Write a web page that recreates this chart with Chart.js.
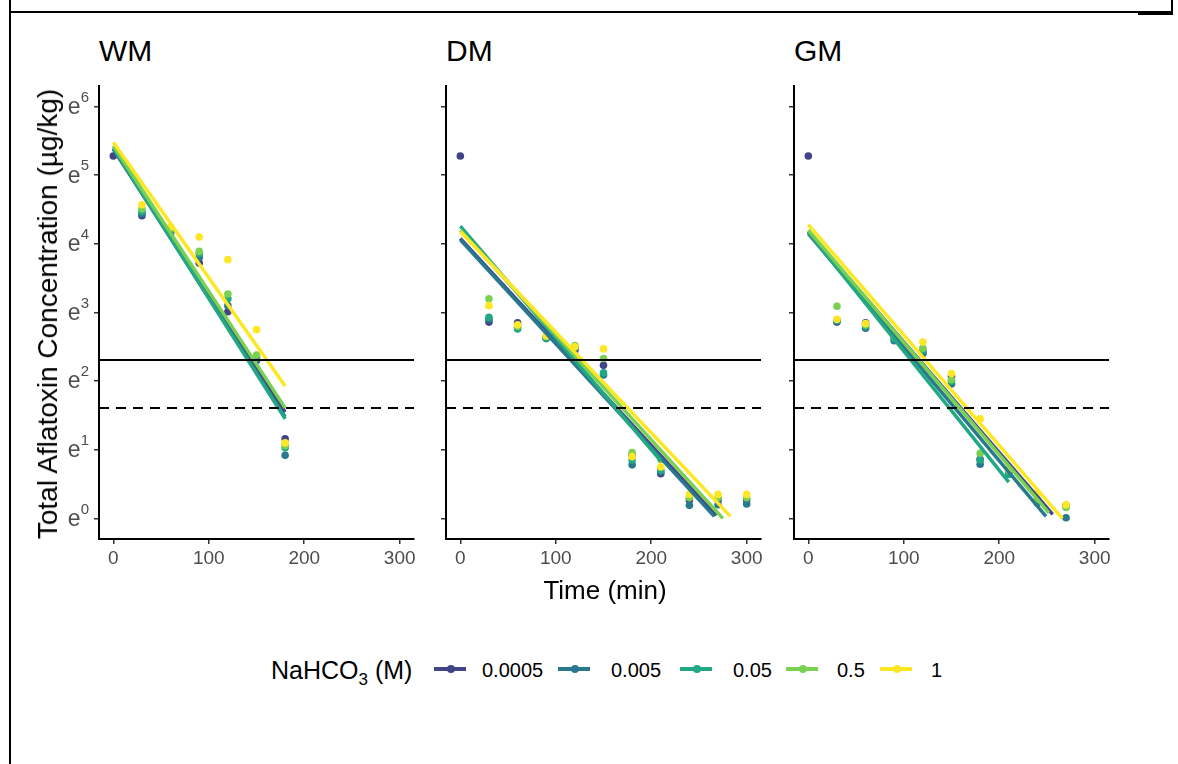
<!DOCTYPE html>
<html>
<head>
<meta charset="utf-8">
<script src="https://cdn.jsdelivr.net/npm/chart.js@4.4.1/dist/chart.umd.min.js"></script>
<style>
  body { margin: 0; background: #fff; font-family: "Liberation Sans", Arial, sans-serif; }
  #page { position: relative; width: 1178px; height: 764px; overflow: hidden; background: #fff; }
  .panel { position: absolute; top: 76px; width: 364px; height: 500px; }
  .title { position: absolute; top: 34px; font-size: 30px; color: #000; }
  #ytitle { position: absolute; left: 48px; top: 314px; font-size: 28px; white-space: nowrap;
            transform: translate(-50%, -50%) rotate(-90deg); }
  #xtitle { position: absolute; left: 605px; top: 575px; font-size: 26px; transform: translateX(-50%); }
  .leg { position: absolute; top: 656px; font-size: 20px; line-height: 28px; }
  #legtitle { left: 271px; font-size: 25px; }
  #legtitle sub { font-size: 17px; vertical-align: -6px; line-height: 0; }
  .sw { position: absolute; top: 667px; width: 32px; height: 4px; }
  .sw i { position: absolute; left: 12.5px; top: -2px; width: 8px; height: 8px; border-radius: 50%; background: inherit; }
  .frame { position: absolute; background: #000; }
</style>
</head>
<body>
<div id="page">
  <div class="frame" style="left:9px;top:0;width:2px;height:764px"></div>
  <div class="frame" style="left:9px;top:11px;width:1164px;height:2px"></div>
  <div class="frame" style="left:1171px;top:0;width:2px;height:13px"></div>
  <div class="frame" style="left:1138px;top:12px;width:35px;height:3px"></div>

  <div class="title" style="left:99px">WM</div>
  <div class="title" style="left:446px">DM</div>
  <div class="title" style="left:794px">GM</div>

  <div class="panel" style="left:60px"><canvas id="wm"></canvas></div>
  <div class="panel" style="left:407px"><canvas id="dm"></canvas></div>
  <div class="panel" style="left:755px"><canvas id="gm"></canvas></div>

  <div id="ytitle">Total Aflatoxin Concentration (µg/kg)</div>
  <div id="xtitle">Time (min)</div>

  <div id="legtitle" class="leg">NaHCO<sub>3</sub> (M)</div>
  <div id="legend"></div>
</div>

<script>
/* NaHCO3 levels and viridis colours */
const concentrations = ['0.0005', '0.005', '0.05', '0.5', '1'];
const colors = ['#414487', '#2A788E', '#22A884', '#7AD151', '#FDE725'];

/* axis ticks: time in minutes, y in natural-log units (e^n) */
const xTickValues = [0, 100, 200, 300];
const yTickValues = [0, 1, 2, 3, 4, 5, 6];

/* regulatory limits, µg/kg (solid, dashed) */
const limitValues = [10, 5];

/* ln(total aflatoxin, µg/kg) per level; rows follow concentrations */
const wmTimes = [0, 30, 60, 90, 120, 150, 180];
const wmPoints = [
  [5.28, 4.41, 4.18, 3.72, 3.01, 2.30, 1.16],
  [null, 4.44, 4.16, 3.80, 3.10, 2.35, 0.92],
  [null, 4.47, 4.20, 3.86, 3.20, 2.33, 1.03],
  [null, 4.51, 4.22, 3.89, 3.27, 2.38, 1.06],
  [null, 4.57, 4.25, 4.10, 3.77, 2.75, 1.10]
];
/* fitted lines: [ln at t=0, end time, ln at end] */
const wmFit = [
  [5.38, 180, 1.55],
  [5.38, 180, 1.48],
  [5.40, 180, 1.45],
  [5.43, 180, 1.61],
  [5.48, 180, 1.93]
];

const dmTimes = [0, 30, 60, 90, 120, 150, 180, 210, 240, 270, 300];
const dmPoints = [
  [5.28, 2.86, 2.85, 2.64, 2.45, 2.23, 0.92, 0.65, 0.27, 0.27, 0.27],
  [null, 2.90, 2.78, 2.62, 2.48, 2.09, 0.78, 0.68, 0.19, 0.20, 0.21],
  [null, 2.93, 2.76, 2.63, 2.50, 2.12, 0.85, 0.70, null, null, null],
  [null, 3.20, 2.80, 2.65, 2.52, 2.33, 0.96, 0.86, 0.30, 0.30, 0.30],
  [null, 3.10, 2.82, 2.66, 2.50, 2.47, 0.90, 0.75, 0.35, 0.35, 0.35]
];
const dmFit = [
  [4.08, 268, 0.04],
  [4.06, 266, 0.03],
  [4.26, 210, 0.84],
  [4.20, 275, 0.00],
  [4.18, 283, 0.03]
];

const gmTimes = [0, 30, 60, 90, 120, 150, 180, 210, 240, 270];
const gmPoints = [
  [5.28, 2.86, 2.85, 2.62, 2.42, 2.07, 0.86, 0.68, 0.25, 0.19],
  [null, 2.89, 2.77, 2.59, 2.40, 1.96, 0.79, 0.66, 0.22, 0.01],
  [null, 2.88, 2.80, 2.62, 2.45, 2.00, 0.85, 0.64, null, null],
  [null, 3.09, 2.82, 2.65, 2.48, 2.02, 0.95, 0.70, 0.28, 0.16],
  [null, 2.90, 2.84, 2.66, 2.57, 2.11, 1.45, 0.72, 0.37, 0.20]
];
const gmFit = [
  [4.18, 256, 0.06],
  [4.15, 249, 0.03],
  [4.17, 210, 0.53],
  [4.20, 252, 0.08],
  [4.28, 266, 0.00]
];

const FONT = '"Liberation Sans", Arial, sans-serif';

/* e^n labels with a raised exponent */
const expTicks = {
  id: 'expTicks',
  afterDraw(chart, args, opts) {
    if (!opts.show) return;
    const y = chart.scales.y, ctx = chart.ctx;
    const right = chart.chartArea.left - 10;
    ctx.save();
    ctx.fillStyle = '#4d4d4d';
    ctx.textAlign = 'right';
    ctx.textBaseline = 'middle';
    y.ticks.forEach(t => {
      const py = y.getPixelForValue(t.value);
      ctx.font = '15px ' + FONT;
      const s = String(t.value);
      const dw = ctx.measureText(s).width;
      ctx.fillText(s, right, py - 9);
      ctx.font = '23px ' + FONT;
      ctx.fillText('e', right - dw, py + 1);
    });
    ctx.restore();
  }
};

/* horizontal limit lines across the panel */
const limitLines = {
  id: 'limitLines',
  afterDatasetsDraw(chart) {
    const { ctx, chartArea: a, scales: { y } } = chart;
    ctx.save();
    ctx.strokeStyle = '#000';
    ctx.lineWidth = 2;
    limitValues.forEach((v, i) => {
      const py = Math.round(y.getPixelForValue(Math.log(v)));
      ctx.setLineDash(i === 0 ? [] : [10, 7]);
      ctx.beginPath();
      ctx.moveTo(a.left, py);
      ctx.lineTo(a.right, py);
      ctx.stroke();
    });
    ctx.restore();
  }
};

function buildPanel(id, times, points, fit, showLabels) {
  const datasets = [];
  colors.forEach((c, i) => {
    // fitted line, drawn above the points
    datasets.push({
      label: concentrations[i] + ' fit',
      data: [{ x: 0, y: fit[i][0] }, { x: fit[i][1], y: fit[i][2] }],
      showLine: true,
      borderColor: c,
      borderWidth: 3.5,
      pointRadius: 0,
      order: 4 - i
    });
    datasets.push({
      label: concentrations[i],
      data: times.map((t, k) => ({ x: t, y: points[i][k] })).filter(p => p.y !== null),
      backgroundColor: c,
      borderWidth: 0,
      pointRadius: 3.8,
      order: 14 - i
    });
  });

  return new Chart(document.getElementById(id), {
    type: 'scatter',
    data: { datasets },
    plugins: [limitLines, expTicks],
    options: {
      responsive: true,
      maintainAspectRatio: false,
      animation: false,
      layout: { padding: { top: 10, right: 10, left: 0, bottom: 0 } },
      plugins: {
        legend: { display: false },
        tooltip: { enabled: false },
        expTicks: { show: showLabels }
      },
      scales: {
        x: {
          type: 'linear', min: -15, max: 315,
          afterBuildTicks(s) { s.ticks = xTickValues.map(v => ({ value: v })); },
          afterFit(s) { s.height = 37; },
          ticks: { color: '#4d4d4d', font: { family: FONT, size: 19 }, padding: 3, maxRotation: 0 },
          grid: { drawOnChartArea: false, drawTicks: true, tickLength: 5, color: '#333', lineWidth: 1.5 },
          border: { display: true, color: '#000', width: 2 }
        },
        y: {
          type: 'linear', min: -0.3, max: 6.3,
          afterBuildTicks(s) { s.ticks = yTickValues.map(v => ({ value: v })); },
          afterFit(s) { s.width = 39; },
          ticks: { callback: () => '', padding: 0 },
          grid: { drawOnChartArea: false, drawTicks: true, tickLength: 5, color: '#333', lineWidth: 1.5 },
          border: { display: true, color: '#000', width: 2 }
        }
      }
    }
  });
}

buildPanel('wm', wmTimes, wmPoints, wmFit, true);
buildPanel('dm', dmTimes, dmPoints, dmFit, false);
buildPanel('gm', gmTimes, gmPoints, gmFit, false);

/* legend keys */
const legendSwatchLeft = [434, 558, 680, 786, 880];
const legendLabelLeft = [482, 611, 733, 837, 931];
const legend = document.getElementById('legend');
concentrations.forEach((c, i) => {
  const sw = document.createElement('div');
  sw.className = 'sw';
  sw.style.left = legendSwatchLeft[i] + 'px';
  sw.style.background = colors[i];
  sw.appendChild(document.createElement('i'));
  legend.appendChild(sw);
  const lab = document.createElement('div');
  lab.className = 'leg';
  lab.style.left = legendLabelLeft[i] + 'px';
  lab.textContent = c;
  legend.appendChild(lab);
});
</script>
</body>
</html>
